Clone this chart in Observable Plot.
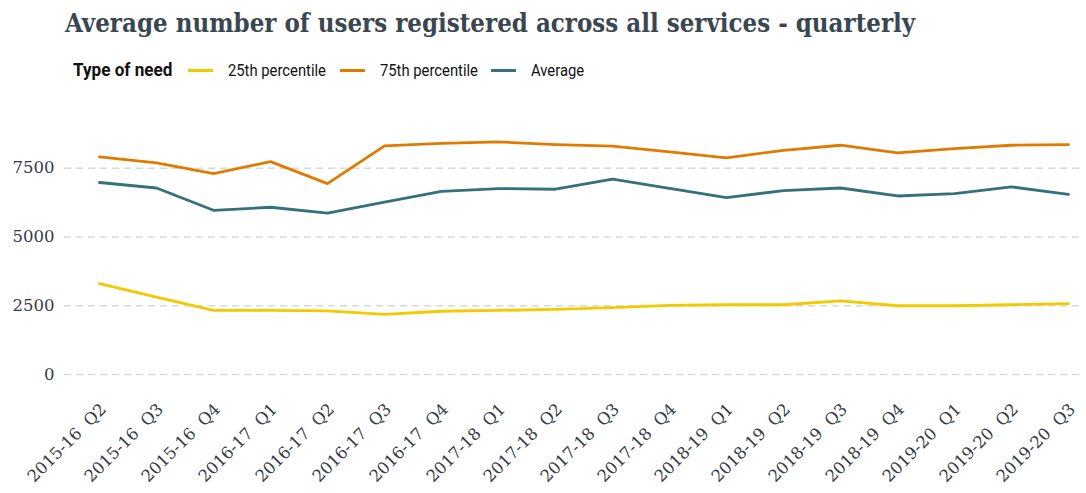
<!DOCTYPE html>
<html>
<head>
<meta charset="utf-8">
<script src="https://cdn.jsdelivr.net/npm/d3@7"></script>
<script src="https://cdn.jsdelivr.net/npm/@observablehq/plot@0.6"></script>
<style>
  html, body { margin: 0; padding: 0; background: #fff; }
  #wrap { position: relative; width: 1086px; height: 493px; overflow: hidden; }
  #head { position: relative; width: 1086px; height: 92px; }
  #title { position: absolute; left: 65px; top: 5px; font-family: "DejaVu Serif Condensed", "DejaVu Serif", serif; font-stretch: condensed; font-weight: bold; font-size: 25.6px; color: #3b4750; white-space: nowrap; line-height: 36px; }
  #legend { position: absolute; left: 0; top: 58px; width: 1086px; height: 24px; font-family: "Liberation Sans Narrow", "Roboto", sans-serif; color: #111; white-space: nowrap; }
  #legend .t { position: absolute; top: 0; line-height: 24px; transform-origin: 0 50%; }
  #legend .lt { font-weight: bold; font-size: 19px; transform: scaleX(0.9); }
  #legend .lab { font-size: 17px; transform: scaleX(0.87); }
  #legend .sw { position: absolute; top: 11px; width: 25px; height: 3px; }
  #chart svg { display: block; }
</style>
</head>
<body>
<div id="wrap">
  <div id="head">
    <div id="title">Average number of users registered across all services - quarterly</div>
    <div id="legend"></div>
  </div>
  <div id="chart"></div>
</div>
<script>
const quarters = [
  "2015-16\u00a0\u00a0Q2", "2015-16\u00a0\u00a0Q3", "2015-16\u00a0\u00a0Q4",
  "2016-17\u00a0\u00a0Q1", "2016-17\u00a0\u00a0Q2", "2016-17\u00a0\u00a0Q3", "2016-17\u00a0\u00a0Q4",
  "2017-18\u00a0\u00a0Q1", "2017-18\u00a0\u00a0Q2", "2017-18\u00a0\u00a0Q3", "2017-18\u00a0\u00a0Q4",
  "2018-19\u00a0\u00a0Q1", "2018-19\u00a0\u00a0Q2", "2018-19\u00a0\u00a0Q3", "2018-19\u00a0\u00a0Q4",
  "2019-20\u00a0\u00a0Q1", "2019-20\u00a0\u00a0Q2", "2019-20\u00a0\u00a0Q3"
];
const p25 = [3300, 2815, 2330, 2330, 2310, 2185, 2300, 2330, 2370, 2430, 2510, 2535, 2535, 2680, 2500, 2500, 2535, 2575];
const p75 = [7910, 7690, 7305, 7740, 6940, 8310, 8400, 8455, 8360, 8300, 8090, 7875, 8150, 8335, 8060, 8215, 8335, 8360];
const avg = [6980, 6780, 5970, 6080, 5870, 6270, 6660, 6760, 6735, 7100, 6770, 6430, 6685, 6780, 6490, 6575, 6820, 6550];
const seriesNames = ["25th percentile", "75th percentile", "Average"];
const seriesColors = ["#f3c900", "#df7b00", "#35717a"];
const yTicks = [0, 2500, 5000, 7500];
const legendTitle = "Type of need";

const seriesValues = [p25, p75, avg];
const data = [];
seriesNames.forEach((s, k) => quarters.forEach((q, i) => data.push({q, v: seriesValues[k][i], s})));

// legend (positions matched to reference)
const leg = document.getElementById("legend");
function addText(cls, txt, left) {
  const e = document.createElement("span"); e.className = "t " + cls; e.textContent = txt; e.style.left = left + "px"; leg.appendChild(e);
}
addText("lt", legendTitle, 73);
const swLeft = [188, 340, 491];
seriesNames.forEach((s, k) => {
  const sw = document.createElement("span"); sw.className = "sw"; sw.style.background = seriesColors[k]; sw.style.left = swLeft[k] + "px"; leg.appendChild(sw);
  addText("lab", s, swLeft[k] + 40);
});

const H = 92;
const chart = Plot.plot({
  width: 1086,
  height: 493 - H,
  marginLeft: 64,
  marginRight: 2,
  marginTop: 0,
  marginBottom: 401 - 292,
  style: {fontFamily: "'DejaVu Serif', serif", fontSize: "16.5px", color: "#333c44", background: "#fff"},
  x: {type: "point", domain: quarters, range: [99, 1068], padding: 0},
  y: {domain: [0, 7500], range: [374 - H, 167.7 - H]},
  color: {domain: seriesNames, range: seriesColors},
  marks: [
    Plot.ruleY(yTicks, {stroke: "#d6dad6", strokeDasharray: "7,5", strokeWidth: 1.5}),
    Plot.lineY(data, {x: "q", y: "v", stroke: "s", strokeWidth: 2.8, strokeLinejoin: "round"}),
    Plot.axisY(yTicks, {tickSize: 0, tickPadding: 10, label: null, tickFormat: d => String(d)}),
    Plot.axisX({tickSize: 0, tickPadding: 4, tickRotate: -45, label: null, dx: 4, dy: 18})
  ]
});
document.getElementById("chart").appendChild(chart);
</script>
</body>
</html>
